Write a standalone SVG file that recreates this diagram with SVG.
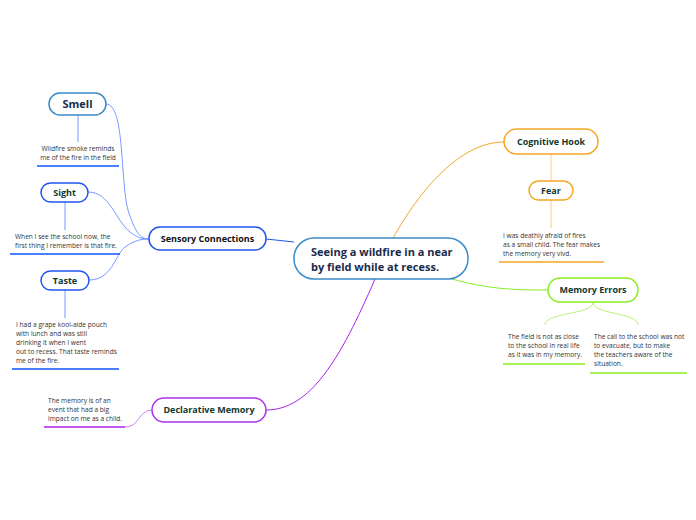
<svg xmlns="http://www.w3.org/2000/svg" width="696" height="520" viewBox="0 0 696 520">
<style>
text{font-family:"Open Sans","Noto Sans","Liberation Sans",sans-serif}
.n{fill:#fff;stroke-width:1.5}
.t{font-weight:bold;font-size:9px;fill:#10392e;text-anchor:middle}
.note{font-size:6.6px;fill:#333}
.c{fill:none;stroke-width:1}
</style>
<rect width="696" height="520" fill="#fff"/>
<g id="connectors">
<path class="c" d="M266,239 L294,242" stroke="#2255ee"/>
<path class="c" d="M106,104 C125,104 120,180 128,210 C135,232 140,239 149,239" stroke="#7799ff"/>
<path class="c" d="M88,192 C110,192 115,220 130,232 C138,238 142,239 149,239" stroke="#7799ff"/>
<path class="c" d="M89,280 C112,280 115,255 125,247 C135,240 142,239 149,239" stroke="#7799ff"/>
<path class="c" d="M78,115 L78,142" stroke="#7799ff"/>
<path class="c" d="M65,202 L65,230" stroke="#7799ff"/>
<path class="c" d="M65,290 L65,318" stroke="#7799ff"/>
<path class="c" d="M393,238 C420,190 460,142 504,142" stroke="#f5a623"/>
<path class="c" d="M551,154 L551,181" stroke="#ffcc88"/>
<path class="c" d="M551,200 L551,228" stroke="#ffcc88"/>
<path class="c" d="M452,279 C490,290 520,290 548,290" stroke="#88ee22"/>
<path class="c" d="M593,302 C593,315 545,312 545,325" stroke="#bbf077"/>
<path class="c" d="M593,302 C593,315 638,312 638,325" stroke="#bbf077"/>
<path class="c" d="M375,279 C340,360 310,410 266,410" stroke="#aa22ee" stroke-width="1.2"/>
<path class="c" d="M125,427 C140,427 138,410 152,410" stroke="#cc88ee"/>
</g>
<g id="main">
<rect class="n" x="294" y="238" width="174" height="41" rx="20" stroke="#3a8ac8"/>
<text x="311" y="256" font-weight="bold" font-size="11px" fill="#1a2b4c">Seeing a wildfire in a near</text>
<text x="311" y="271" font-weight="bold" font-size="11px" fill="#1a2b4c">by field while at recess.</text>
</g>
<g id="sensory">
<rect class="n" x="149" y="227" width="117" height="23" rx="11" stroke="#2255ee"/>
<text class="t" x="207.5" y="242" style="fill:#111">Sensory Connections</text>
</g>
<g id="smell">
<rect class="n" x="49" y="93" width="57" height="22" rx="11" stroke="#3a8ac8"/>
<text class="t" x="77.5" y="108" style="font-size:11px;fill:#1a2b4c">Smell</text>
</g>
<g id="smell-note">
<text class="note" x="78" y="151" text-anchor="middle">Wildfire smoke reminds</text>
<text class="note" x="78" y="160" text-anchor="middle">me of the fire in the field</text>
<line x1="37" y1="166" x2="119" y2="166" stroke="#1155ff" stroke-width="1.5"/>
</g>
<g id="sight">
<rect class="n" x="41" y="183" width="47" height="19" rx="9.5" stroke="#2255ee"/>
<text class="t" x="64.5" y="196">Sight</text>
</g>
<g id="sight-note">
<text class="note" x="15" y="239">When I see the school now, the</text>
<text class="note" x="15" y="248">first thing I remember is that fire.</text>
<line x1="10" y1="254" x2="120" y2="254" stroke="#1155ff" stroke-width="1.5"/>
</g>
<g id="taste">
<rect class="n" x="41" y="271" width="48" height="19" rx="9.5" stroke="#2255ee"/>
<text class="t" x="65" y="284">Taste</text>
</g>
<g id="taste-note">
<text class="note" x="16" y="327">I had a grape kool-aide pouch</text>
<text class="note" x="16" y="336">with lunch and was still</text>
<text class="note" x="16" y="345">drinking it when I went</text>
<text class="note" x="16" y="354">out to recess. That taste reminds</text>
<text class="note" x="16" y="363">me of the fire.</text>
<line x1="12" y1="369" x2="119" y2="369" stroke="#1155ff" stroke-width="1.5"/>
</g>
<g id="declarative">
<rect class="n" x="152" y="398" width="114" height="24" rx="12" stroke="#aa33ee"/>
<text class="t" x="209" y="413">Declarative Memory</text>
</g>
<g id="declarative-note">
<text class="note" x="48" y="403">The memory is of an</text>
<text class="note" x="48" y="412">event that had a big</text>
<text class="note" x="48" y="421">impact on me as a child.</text>
<line x1="44" y1="427" x2="125" y2="427" stroke="#aa22ee" stroke-width="1.5"/>
</g>
<g id="cognitive">
<rect class="n" x="504" y="129" width="94" height="25" rx="12.5" stroke="#f5a623"/>
<text class="t" x="551" y="145">Cognitive Hook</text>
</g>
<g id="fear">
<rect class="n" x="529" y="181" width="44" height="19" rx="9.5" stroke="#f5a623"/>
<text class="t" x="551" y="194">Fear</text>
</g>
<g id="fear-note">
<text class="note" x="503" y="238">I was deathly afraid of fires</text>
<text class="note" x="503" y="247">as a small child. The fear makes</text>
<text class="note" x="503" y="256">the memory very vivd.</text>
<line x1="499" y1="262" x2="604" y2="262" stroke="#f5a623" stroke-width="1.5"/>
</g>
<g id="errors">
<rect class="n" x="548" y="278" width="90" height="24" rx="12" stroke="#88ee22"/>
<text class="t" x="593" y="293">Memory Errors</text>
</g>
<g id="errors-note1">
<text class="note" x="508" y="339">The field is not as close</text>
<text class="note" x="508" y="348">to the school  in real life</text>
<text class="note" x="508" y="357">as it was in my memory.</text>
<line x1="503" y1="364" x2="585" y2="364" stroke="#88ee22" stroke-width="1.5"/>
</g>
<g id="errors-note2">
<text class="note" x="594" y="339">The call to the school was not</text>
<text class="note" x="594" y="348">to evacuate, but to make</text>
<text class="note" x="594" y="357">the teachers aware of the</text>
<text class="note" x="594" y="366">situation.</text>
<line x1="590" y1="373" x2="687" y2="373" stroke="#88ee22" stroke-width="1.5"/>
</g>
</svg>
